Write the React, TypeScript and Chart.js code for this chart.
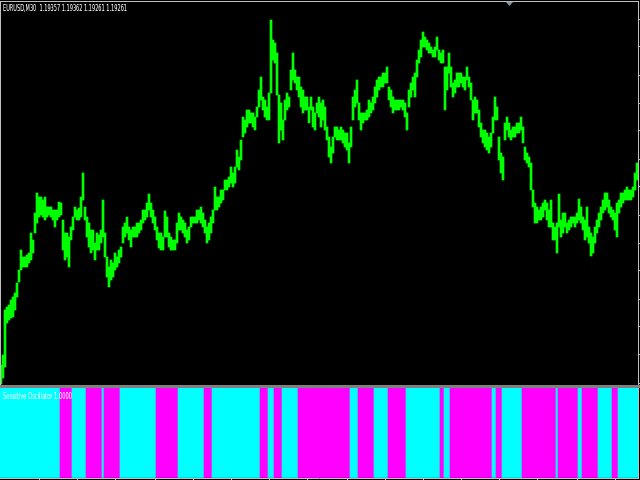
import React, { useEffect, useRef } from "react";
import { Chart, registerables } from "chart.js";

Chart.register(...registerables);

const symbolTitle = "EURUSD,M30  1.19357 1.19362 1.19261 1.19261";
const oscTitle = "Sensitive Oscillator 1.0000";

// M30 bars: high / low prices (left to right)
const barHigh = [
  1.1735, 1.1745, 1.1790, 1.1793, 1.1795, 1.1800, 1.1803, 1.1807, 1.1817, 1.1830,
  1.1850, 1.1843, 1.1843, 1.1845, 1.1847, 1.1867, 1.1860, 1.1887, 1.1907, 1.1903,
  1.1903, 1.1900, 1.1903, 1.1893, 1.1893, 1.1893, 1.1890, 1.1890, 1.1890, 1.1898,
  1.1897, 1.1880, 1.1867, 1.1867, 1.1863, 1.1873, 1.1883, 1.1893, 1.1890, 1.1892,
  1.1903, 1.1927, 1.1893, 1.1883, 1.1877, 1.1870, 1.1870, 1.1857, 1.1867, 1.1865,
  1.1870, 1.1900, 1.1867, 1.1843, 1.1833, 1.1840, 1.1837, 1.1847, 1.1843, 1.1850,
  1.1853, 1.1873, 1.1877, 1.1883, 1.1873, 1.1870, 1.1873, 1.1873, 1.1877, 1.1877,
  1.1880, 1.1890, 1.1890, 1.1897, 1.1906, 1.1897, 1.1890, 1.1883, 1.1873, 1.1867,
  1.1867, 1.1863, 1.1889, 1.1883, 1.1867, 1.1863, 1.1860, 1.1860, 1.1877, 1.1887,
  1.1883, 1.1880, 1.1877, 1.1870, 1.1873, 1.1883, 1.1883, 1.1883, 1.1890, 1.1890,
  1.1893, 1.1887, 1.1880, 1.1873, 1.1877, 1.1883, 1.1890, 1.1913, 1.1903, 1.1903,
  1.1910, 1.1910, 1.1920, 1.1920, 1.1923, 1.1933, 1.1927, 1.1933, 1.1950, 1.1943,
  1.1960, 1.1983, 1.1980, 1.1990, 1.1990, 1.1987, 1.1987, 1.1983, 1.1993, 1.2010,
  1.2023, 1.2003, 1.2000, 1.1993, 1.2007, 1.2080, 1.2060, 1.2057, 1.2047, 1.2005,
  1.1997, 1.1980, 1.2000, 1.2007, 1.2003, 1.2030, 1.2047, 1.2030, 1.2023, 1.2023,
  1.2013, 1.2010, 1.2003, 1.2003, 1.1993, 1.2003, 1.1993, 1.1987, 1.1997, 1.2003,
  1.1997, 1.2000, 1.1993, 1.1973, 1.1963, 1.1953, 1.1963, 1.1973, 1.1973, 1.1970,
  1.1973, 1.1970, 1.1967, 1.1967, 1.1957, 1.1973, 1.2003, 1.2010, 1.2020, 1.1997,
  1.1987, 1.1987, 1.1987, 1.1990, 1.2000, 1.1997, 1.2003, 1.2013, 1.2020, 1.2023,
  1.2023, 1.2027, 1.2027, 1.2033, 1.2013, 1.2010, 1.2003, 1.2000, 1.2000, 1.2000,
  1.2000, 1.2000, 1.1997, 1.1987, 1.2010, 1.2017, 1.2023, 1.2027, 1.2040, 1.2050,
  1.2060, 1.2068, 1.2063, 1.2060, 1.2057, 1.2053, 1.2050, 1.2053, 1.2063, 1.2050,
  1.2047, 1.2050, 1.2033, 1.2033, 1.2047, 1.2033, 1.2017, 1.2020, 1.2027, 1.2027,
  1.2027, 1.2023, 1.2023, 1.2033, 1.2023, 1.2017, 1.2000, 1.2003, 1.2000, 1.1990,
  1.1977, 1.1970, 1.1970, 1.1967, 1.1963, 1.1967, 1.1983, 1.2003, 1.1993, 1.1963,
  1.1947, 1.1943, 1.1977, 1.1983, 1.1977, 1.1970, 1.1973, 1.1973, 1.1977, 1.1977,
  1.1983, 1.1973, 1.1953, 1.1947, 1.1943, 1.1937, 1.1910, 1.1897, 1.1893, 1.1890,
  1.1893, 1.1897, 1.1900, 1.1897, 1.1890, 1.1900, 1.1877, 1.1873, 1.1877, 1.1906,
  1.1880, 1.1887, 1.1887, 1.1877, 1.1880, 1.1883, 1.1883, 1.1883, 1.1887, 1.1901,
  1.1893, 1.1883, 1.1880, 1.1893, 1.1873, 1.1867, 1.1863, 1.1873, 1.1880, 1.1887,
  1.1893, 1.1900, 1.1907, 1.1907, 1.1900, 1.1893, 1.1890, 1.1887, 1.1897, 1.1900,
  1.1907, 1.1907, 1.1910, 1.1913, 1.1910, 1.1910, 1.1913, 1.1927, 1.1937,
];

const barLow = [
  1.1716, 1.1722, 1.1733, 1.1777, 1.1780, 1.1782, 1.1783, 1.1790, 1.1803, 1.1818,
  1.1830, 1.1833, 1.1833, 1.1833, 1.1837, 1.1840, 1.1847, 1.1867, 1.1877, 1.1883,
  1.1885, 1.1883, 1.1880, 1.1883, 1.1885, 1.1883, 1.1880, 1.1873, 1.1880, 1.1883,
  1.1885, 1.1850, 1.1840, 1.1843, 1.1833, 1.1860, 1.1870, 1.1883, 1.1880, 1.1880,
  1.1883, 1.1900, 1.1880, 1.1863, 1.1853, 1.1847, 1.1850, 1.1840, 1.1850, 1.1850,
  1.1857, 1.1863, 1.1843, 1.1823, 1.1813, 1.1820, 1.1823, 1.1830, 1.1833, 1.1837,
  1.1843, 1.1857, 1.1863, 1.1867, 1.1860, 1.1853, 1.1863, 1.1863, 1.1863, 1.1867,
  1.1870, 1.1877, 1.1880, 1.1883, 1.1890, 1.1883, 1.1877, 1.1870, 1.1860, 1.1852,
  1.1850, 1.1850, 1.1863, 1.1863, 1.1853, 1.1850, 1.1850, 1.1850, 1.1857, 1.1870,
  1.1870, 1.1867, 1.1863, 1.1857, 1.1860, 1.1873, 1.1877, 1.1877, 1.1877, 1.1880,
  1.1877, 1.1873, 1.1867, 1.1857, 1.1860, 1.1867, 1.1877, 1.1890, 1.1890, 1.1893,
  1.1897, 1.1900, 1.1910, 1.1910, 1.1913, 1.1917, 1.1913, 1.1917, 1.1933, 1.1930,
  1.1940, 1.1963, 1.1967, 1.1973, 1.1977, 1.1977, 1.1973, 1.1970, 1.1983, 1.1993,
  1.2000, 1.1990, 1.1983, 1.1980, 1.1980, 1.2007, 1.2040, 1.2037, 1.2005, 1.1957,
  1.1970, 1.1960, 1.1980, 1.1990, 1.1993, 1.2010, 1.2020, 1.2017, 1.2010, 1.2003,
  1.1993, 1.1987, 1.1990, 1.1990, 1.1977, 1.1990, 1.1973, 1.1970, 1.1987, 1.1983,
  1.1973, 1.1980, 1.1970, 1.1960, 1.1943, 1.1937, 1.1947, 1.1963, 1.1960, 1.1960,
  1.1960, 1.1957, 1.1953, 1.1950, 1.1937, 1.1953, 1.1980, 1.1993, 1.1997, 1.1980,
  1.1970, 1.1977, 1.1980, 1.1980, 1.1983, 1.1987, 1.1990, 1.1997, 1.2003, 1.2010,
  1.2013, 1.2013, 1.2017, 1.2017, 1.2000, 1.1993, 1.1987, 1.1990, 1.1990, 1.1990,
  1.1993, 1.1990, 1.1983, 1.1970, 1.1993, 1.2003, 1.2010, 1.2003, 1.2023, 1.2037,
  1.2043, 1.2053, 1.2053, 1.2050, 1.2047, 1.2047, 1.2043, 1.2043, 1.2050, 1.2040,
  1.2037, 1.2037, 1.1990, 1.2010, 1.2027, 1.2013, 1.2003, 1.2007, 1.2013, 1.2013,
  1.2017, 1.2013, 1.2010, 1.2020, 1.2013, 1.2000, 1.1980, 1.1987, 1.1987, 1.1973,
  1.1963, 1.1957, 1.1953, 1.1950, 1.1947, 1.1953, 1.1967, 1.1980, 1.1980, 1.1940,
  1.1927, 1.1920, 1.1960, 1.1970, 1.1963, 1.1960, 1.1963, 1.1963, 1.1967, 1.1967,
  1.1970, 1.1957, 1.1940, 1.1937, 1.1933, 1.1910, 1.1893, 1.1877, 1.1877, 1.1880,
  1.1880, 1.1883, 1.1890, 1.1880, 1.1873, 1.1873, 1.1860, 1.1860, 1.1847, 1.1873,
  1.1863, 1.1867, 1.1873, 1.1867, 1.1870, 1.1873, 1.1877, 1.1873, 1.1877, 1.1880,
  1.1877, 1.1870, 1.1860, 1.1863, 1.1857, 1.1844, 1.1847, 1.1857, 1.1867, 1.1873,
  1.1880, 1.1887, 1.1890, 1.1893, 1.1887, 1.1883, 1.1880, 1.1870, 1.1863, 1.1887,
  1.1893, 1.1897, 1.1900, 1.1900, 1.1900, 1.1900, 1.1903, 1.1910, 1.1920,
];

// Sensitive Oscillator state per bar: 1 = up (aqua), -1 = down (magenta)
const oscSignal = [
  1,1,1,1,1,1,1,1,1,1, 1,1,1,1,1,1,1,1,1,1, 1,1,1,1,1,1,1,1,1,1,
  -1,-1,-1,-1,-1,-1,
  1,1,1,1,1,1,1,
  -1,-1,-1,-1,-1,-1,-1,-1,
  1,
  -1,-1,-1,-1,-1,-1,-1,-1,
  1,1,1,1,1,1,1,1,1,1, 1,1,1,1,1,1,1,1,
  -1,-1,-1,-1,-1,-1,-1,-1,-1,-1, -1,
  1,1,1,1,1,1,1,1,1,1, 1,1,1,
  -1,-1,-1,-1,
  1,1,1,1,1,1,1,1,1,1, 1,1,1,1,1,1,1,1,1,1, 1,1,1,1,
  -1,-1,-1,-1,
  1,1,1,
  -1,-1,-1,-1,
  1,1,1,1,1,1,1,1,
  -1,-1,-1,-1,-1,-1,-1,-1,-1,-1, -1,-1,-1,-1,-1,-1,-1,-1,-1,-1, -1,-1,-1,-1,-1,-1,
  1,1,1,1,
  -1,-1,-1,-1,-1,-1,-1,-1,
  1,1,1,1,1,1,1,
  -1,-1,-1,-1,-1,-1,-1,-1,-1,
  1,1,1,1,1,1,1,1,1,1, 1,1,1,1,1,1,1,
  -1,-1,
  1,1,1,
  -1,-1,-1,-1,-1,-1,-1,-1,-1,-1, -1,-1,-1,-1,-1,-1,-1,-1,-1,-1, -1,
  1,1,
  -1,-1,-1,
  1,1,1,1,1,1,1,1,1,1,
  -1,-1,-1,-1,-1,-1,-1,-1,-1,-1, -1,-1,-1,-1,-1,-1,-1,
  1,
  -1,-1,-1,-1,-1,-1,-1,-1,-1,-1,
  1,1,
  -1,-1,-1,-1,-1,-1,-1,-1,
  1,1,1,1,1,1,1,
  -1,-1,-1,
  1,1,1,1,1,1,1,1,1,1,
];

// price-scale tick values (right axis) and time-scale tick bars (bottom axis)
const priceTicks = [1.2081, 1.2053, 1.2025, 1.1997, 1.1969, 1.1941, 1.1913, 1.1885, 1.1857, 1.1829, 1.1801, 1.1773, 1.1745, 1.1717];
const timeTickBars = [19, 38, 57, 77, 96, 115, 134, 153, 173, 192, 211, 230, 249, 268, 288, 307];

const FRAME = "#c0c0c0";

export default function App() {
  const mainRef = useRef<HTMLCanvasElement>(null);
  const oscRef = useRef<HTMLCanvasElement>(null);

  useEffect(() => {
    const labels = barHigh.map((_, i) => String(i));
    const ranges = barHigh.map((h, i) => [barLow[i], h]);

    const mainFrame = {
      id: "mainFrame",
      afterDraw(chart: any) {
        const ctx = chart.ctx;
        ctx.save();
        ctx.fillStyle = FRAME;
        ctx.fillRect(0, 1, 639, 1);
        ctx.fillRect(0, 1, 1, chart.height - 1);
        // chart shift marker
        ctx.fillStyle = "#8592a8";
        ctx.beginPath();
        ctx.moveTo(506, 2);
        ctx.lineTo(513, 2);
        ctx.lineTo(509.5, 6);
        ctx.closePath();
        ctx.fill();
        ctx.fillStyle = "#ffffff";
        ctx.font = '9px "DejaVu Sans"';
        ctx.textBaseline = "alphabetic";
        ctx.fillText(symbolTitle, 3, 11, 124);
        ctx.restore();
      },
    };

    const main = new Chart(mainRef.current!, {
      type: "bar",
      data: {
        labels,
        datasets: [
          {
            data: ranges as any,
            backgroundColor: "#00ff00",
            borderWidth: 0,
            borderSkipped: false,
            barPercentage: 1,
            categoryPercentage: 1,
          },
        ],
      },
      options: {
        responsive: false,
        animation: false,
        events: [],
        layout: { padding: { top: 2, left: 0, right: 0, bottom: 0 } },
        plugins: { legend: { display: false }, tooltip: { enabled: false }, title: { display: false } },
        scales: {
          x: { type: "category", display: false },
          y: {
            position: "right",
            min: 1.1715,
            max: 1.2098,
            afterBuildTicks: (scale: any) => {
              scale.ticks = priceTicks.map((v) => ({ value: v }));
            },
            ticks: { display: false },
            grid: { display: true, drawOnChartArea: false, drawTicks: true, tickLength: 2, color: FRAME },
            border: { display: true, color: FRAME, width: 1 },
          },
        },
      },
      plugins: [mainFrame],
    });

    const oscFrame = {
      id: "oscFrame",
      beforeDraw(chart: any) {
        const ctx = chart.ctx;
        ctx.save();
        ctx.fillStyle = "#808080";
        ctx.fillRect(0, 0, 640, 3);
        ctx.restore();
      },
      afterDraw(chart: any) {
        const ctx = chart.ctx;
        ctx.save();
        ctx.fillStyle = "#ffffff";
        ctx.font = '9px "DejaVu Sans"';
        ctx.textBaseline = "alphabetic";
        ctx.fillText(oscTitle, 3, 14, 69);
        ctx.restore();
      },
    };

    const osc = new Chart(oscRef.current!, {
      type: "bar",
      data: {
        labels,
        datasets: [
          {
            data: oscSignal.map((s) => Math.abs(s)),
            backgroundColor: oscSignal.map((s) => (s > 0 ? "#00ffff" : "#ff00ff")),
            borderWidth: 0,
            borderSkipped: false,
            barPercentage: 1,
            categoryPercentage: 1,
          },
        ],
      },
      options: {
        responsive: false,
        animation: false,
        events: [],
        layout: { padding: { top: 3, left: 0, right: 0, bottom: 0 } },
        plugins: { legend: { display: false }, tooltip: { enabled: false }, title: { display: false } },
        scales: {
          x: {
            type: "category",
            position: "bottom",
            afterBuildTicks: (scale: any) => {
              scale.ticks = timeTickBars.map((v) => ({ value: v }));
            },
            ticks: { display: false },
            grid: { display: true, offset: false, drawOnChartArea: false, drawTicks: true, tickLength: 2, color: FRAME },
            border: { display: true, color: FRAME, width: 1 },
          },
          y: {
            position: "right",
            min: 0,
            max: 1,
            ticks: { display: false },
            grid: { display: true, drawOnChartArea: false, drawTicks: true, tickLength: 2, color: "rgba(0,0,0,0)" },
            border: { display: true, color: FRAME, width: 1 },
          },
        },
      },
      plugins: [oscFrame],
    });

    return () => {
      main.destroy();
      osc.destroy();
    };
  }, []);

  return (
    <div style={{ position: "fixed", left: 0, top: 0, width: 640, height: 480, background: "#000", overflow: "hidden" }}>
      <canvas ref={mainRef} width={640} height={385} style={{ position: "absolute", left: 0, top: 0, display: "block" }} />
      <canvas ref={oscRef} width={640} height={95} style={{ position: "absolute", left: 0, top: 385, display: "block" }} />
    </div>
  );
}
